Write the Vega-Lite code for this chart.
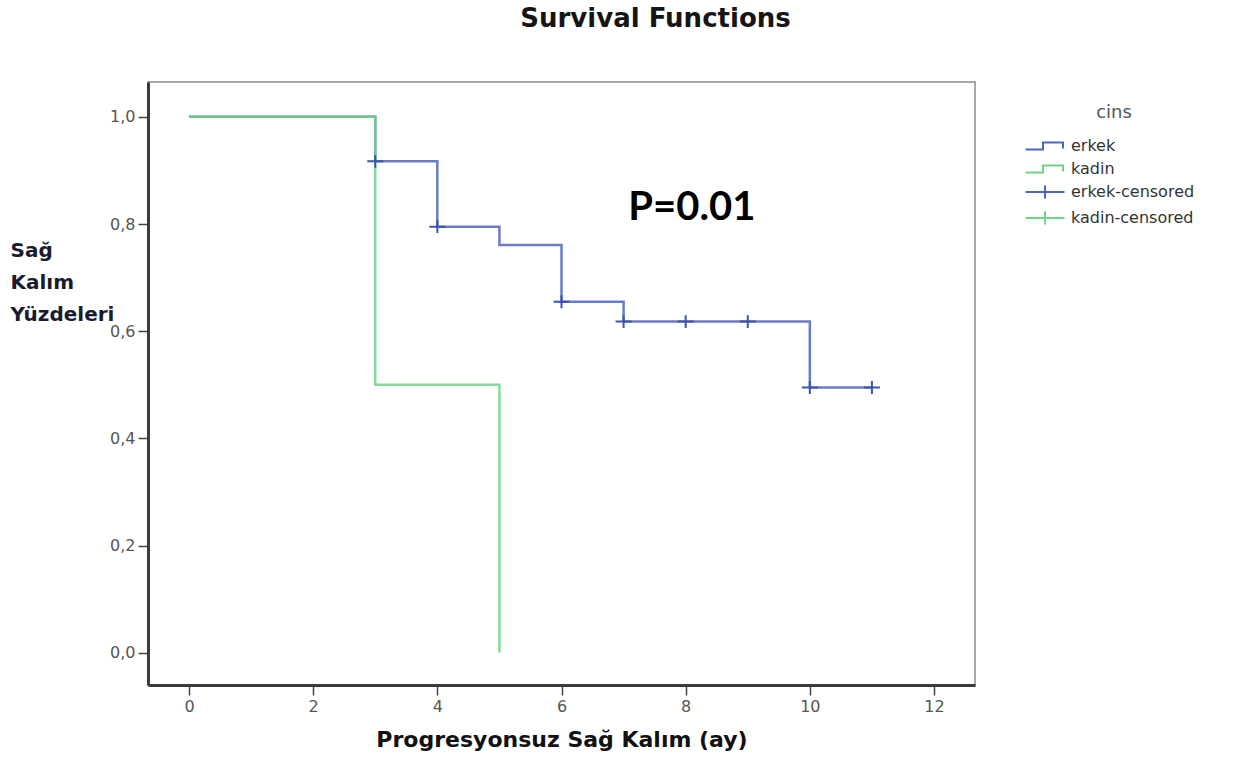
{
  "$schema": "https://vega.github.io/schema/vega-lite/v6.json",
  "width": 827,
  "height": 603,
  "autosize": {"type": "none"},
  "padding": {"left": 148, "top": 82, "right": 282, "bottom": 75},
  "background": "white",
  "title": {
    "text": "Survival Functions",
    "font": "DejaVu Sans",
    "fontSize": 26,
    "fontWeight": "bold",
    "color": "#151515",
    "anchor": "middle",
    "dx": 94,
    "offset": 50
  },
  "config": {
    "view": {"fill": "#f0f0f0", "stroke": "#8a8a8a", "strokeWidth": 1.5},
    "axis": {
      "grid": false,
      "domainColor": "#3a3a3a",
      "domainWidth": 3,
      "tickColor": "#444444",
      "tickWidth": 1.5,
      "tickSize": 10,
      "labelFont": "DejaVu Sans",
      "labelFontSize": 16,
      "labelColor": "#555555",
      "labelPadding": 3
    },
    "legend": {
      "orient": "none",
      "legendX": 886,
      "legendY": 22,
      "padding": 0,
      "titleFont": "DejaVu Sans",
      "titleFontSize": 18,
      "titleFontWeight": "normal",
      "titleColor": "#555555",
      "titleAnchor": "middle",
      "titlePadding": 13,
      "labelFont": "DejaVu Sans",
      "labelFontSize": 16,
      "labelColor": "#333333",
      "labelOffset": 15,
      "symbolSize": 400,
      "symbolStrokeWidth": 2,
      "symbolFillColor": "transparent",
      "rowPadding": 4
    }
  },
  "datasets": {
    "curves": [
      {"t": 0, "s": 1.0, "series": "erkek"},
      {"t": 3, "s": 0.917, "series": "erkek"},
      {"t": 4, "s": 0.795, "series": "erkek"},
      {"t": 5, "s": 0.761, "series": "erkek"},
      {"t": 6, "s": 0.655, "series": "erkek"},
      {"t": 7, "s": 0.618, "series": "erkek"},
      {"t": 10, "s": 0.495, "series": "erkek"},
      {"t": 11, "s": 0.495, "series": "erkek"},
      {"t": 0, "s": 1.0, "series": "kadin"},
      {"t": 3, "s": 0.5, "series": "kadin"},
      {"t": 5, "s": 0.0, "series": "kadin"}
    ],
    "censored": [
      {"t": 3, "s": 0.917},
      {"t": 4, "s": 0.795},
      {"t": 6, "s": 0.655},
      {"t": 7, "s": 0.618},
      {"t": 8, "s": 0.618},
      {"t": 9, "s": 0.618},
      {"t": 10, "s": 0.495},
      {"t": 11, "s": 0.495}
    ],
    "legendItems": [
      {"series": "erkek"},
      {"series": "kadin"},
      {"series": "erkek-censored"},
      {"series": "kadin-censored"}
    ],
    "annot": [{"t": 8.1, "s": 0.808, "label": "P=0.01"}]
  },
  "resolve": {"scale": {"color": "independent", "shape": "independent"}, "legend": {"color": "independent", "shape": "independent"}},
  "layer": [
    {
      "data": {"name": "curves"},
      "mark": {"type": "line", "interpolate": "step-after", "strokeWidth": 2.5, "opacity": 0.85},
      "encoding": {
        "x": {
          "field": "t", "type": "quantitative",
          "scale": {"domain": [-0.66, 12.66], "nice": false, "zero": false},
          "axis": {
            "values": [0, 2, 4, 6, 8, 10, 12],
            "format": "d",
            "title": "Progresyonsuz Sağ Kalım (ay)",
            "titleFont": "DejaVu Sans",
            "titleFontSize": 22,
            "titleFontWeight": "bold",
            "titleColor": "#111111",
            "titlePadding": 15
          }
        },
        "y": {
          "field": "s", "type": "quantitative",
          "scale": {"domain": [-0.06, 1.065], "nice": false, "zero": false},
          "axis": {
            "values": [0, 0.2, 0.4, 0.6, 0.8, 1.0],
            "format": ".1f",
            "labelExpr": "replace(datum.label, '.', ',')",
            "title": ["Sağ", "Kalım", "Yüzdeleri"],
            "titleFont": "DejaVu Sans",
            "titleFontSize": 20,
            "titleFontWeight": "bold",
            "titleColor": "#1b1b2e",
            "titleAngle": 0,
            "titleAlign": "left",
            "titleBaseline": "alphabetic",
            "titleX": -138,
            "titleY": 174,
            "titleLineHeight": 32
          }
        },
        "color": {
          "field": "series", "type": "nominal",
          "scale": {"domain": ["erkek", "kadin"], "range": ["#4d64bf", "#6fd484"]},
          "legend": null
        }
      }
    },
    {
      "data": {"name": "censored"},
      "mark": {"type": "point", "shape": "M-1,0H1M0,-0.8V0.8", "size": 256, "strokeWidth": 2, "filled": false, "color": "#3c53b0", "opacity": 1},
      "encoding": {
        "x": {"field": "t", "type": "quantitative"},
        "y": {"field": "s", "type": "quantitative"}
      }
    },
    {
      "data": {"name": "annot"},
      "mark": {"type": "text", "font": "Lato", "fontSize": 40, "fontWeight": "bold", "color": "#000000", "align": "center", "baseline": "alphabetic"},
      "encoding": {
        "x": {"field": "t", "type": "quantitative"},
        "y": {"field": "s", "type": "quantitative"},
        "text": {"field": "label"}
      }
    },
    {
      "data": {"name": "legendItems"},
      "mark": {"type": "point", "filled": false, "opacity": 0, "strokeWidth": 2},
      "encoding": {
        "color": {
          "field": "series", "type": "nominal", "title": "cins",
          "scale": {"domain": ["erkek", "kadin", "erkek-censored", "kadin-censored"], "range": ["#4d64bf", "#6fd484", "#4d64bf", "#6fd484"]},
          "legend": {"encode": {"symbols": {"update": {"opacity": {"value": 1}, "strokeOpacity": {"value": 1}}}}}
        },
        "shape": {
          "field": "series", "type": "nominal", "title": "cins",
          "scale": {"domain": ["erkek", "kadin", "erkek-censored", "kadin-censored"], "range": ["M-1.95,0.35H-0.2V-0.35H1.8V0.25", "M-1.95,0.35H-0.2V-0.35H1.8V0.25", "M-1.95,0H1.95M0,-0.65V0.65", "M-1.95,0H1.95M0,-0.65V0.65"]},
          "legend": {"encode": {"symbols": {"update": {"opacity": {"value": 1}, "strokeOpacity": {"value": 1}}}}}
        }
      }
    }
  ]
}
